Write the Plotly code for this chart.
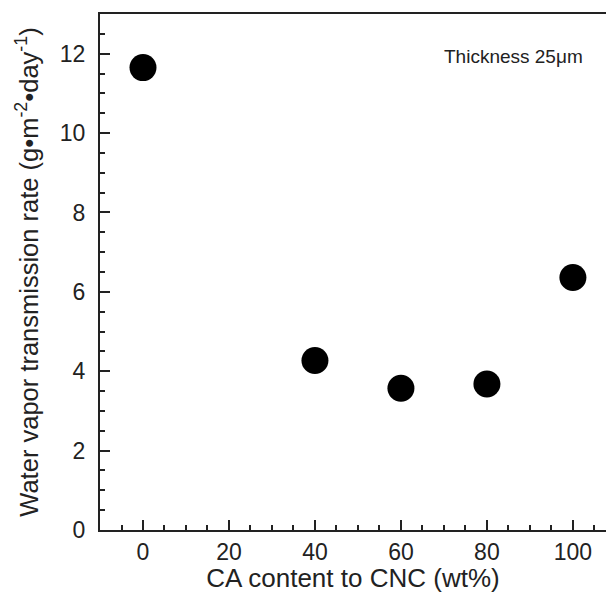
import plotly.graph_objects as go

ca_content = [0, 40, 60, 80, 100]
wvtr = [11.65, 4.27, 3.57, 3.68, 6.36]

x_ticks = [0, 20, 40, 60, 80, 100]
y_ticks = [0, 2, 4, 6, 8, 10, 12]

fig = go.Figure()
fig.add_trace(go.Scatter(
    x=ca_content, y=wvtr, mode="markers",
    marker=dict(size=27, color="black", line=dict(width=0)),
    showlegend=False,
))

font_family = "Liberation Sans, Arial, sans-serif"
fig.update_layout(
    width=606, height=593,
    margin=dict(l=100, r=0, t=14, b=63),
    paper_bgcolor="white", plot_bgcolor="white",
    font=dict(family=font_family, color="#222", size=23),
    xaxis=dict(
        range=[-10, 107.7], tickvals=x_ticks, ticks="inside", ticklen=10, tickwidth=2,
        tickcolor="#222", showline=True, linewidth=2, linecolor="#222", mirror=True,
        showgrid=False, zeroline=False, tickfont=dict(size=23),
        minor=dict(dtick=5, tick0=0, ticks="inside", ticklen=5, tickwidth=2, tickcolor="#222"),
        title=dict(text="CA content to CNC (wt%)", font=dict(size=26), standoff=2),
    ),
    yaxis=dict(
        range=[0, 13], tickvals=y_ticks, ticks="inside", ticklen=10, tickwidth=2,
        tickcolor="#222", showline=True, linewidth=2, linecolor="#222",
        showgrid=False, zeroline=False, tickfont=dict(size=23), ticklabelstandoff=8,
        minor=dict(dtick=0.5, tick0=0, ticks="inside", ticklen=5, tickwidth=2, tickcolor="#222"),
        title=dict(text="Water vapor transmission rate (g\u2022m<sup>-2</sup>\u2022day<sup>-1</sup>)",
                   font=dict(size=25.5), standoff=14),
    ),
    annotations=[dict(
        x=0.958, y=0.917, xref="paper", yref="paper", xanchor="right", yanchor="middle",
        text="Thickness 25\u03bcm", showarrow=False, font=dict(size=19, color="#222"),
    )],
)

fig.write_html("out.html")
